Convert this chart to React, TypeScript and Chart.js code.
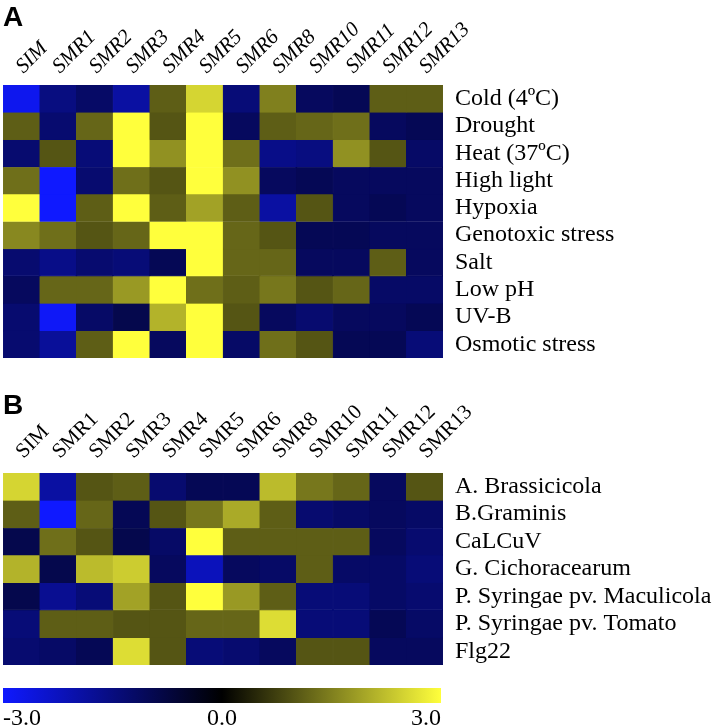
import React, { useEffect, useRef } from "react";
import { Chart, registerables } from "chart.js";

Chart.register(...registerables);

const columns = ["SIM", "SMR1", "SMR2", "SMR3", "SMR4", "SMR5", "SMR6", "SMR8", "SMR10", "SMR11", "SMR12", "SMR13"];

const rowsA = [
  "Cold (4ºC)",
  "Drought",
  "Heat (37ºC)",
  "High light",
  "Hypoxia",
  "Genotoxic stress",
  "Salt",
  "Low pH",
  "UV-B",
  "Osmotic stress",
];

const valuesA = [
  [-2.8, -1.5, -1.2, -1.9, 1.1, 2.5, -1.4, 1.5, -1.1, -1.0, 1.1, 1.1],
  [1.1, -1.3, 1.2, 3.0, 1.0, 3.0, -1.1, 1.1, 1.2, 1.3, -1.1, -1.0],
  [-1.3, 1.0, -1.4, 3.0, 1.7, 3.0, 1.3, -1.6, -1.5, 1.7, 1.0, -1.2],
  [1.3, -3.0, -1.3, 1.3, 1.0, 3.0, 1.7, -1.1, -1.0, -1.1, -1.1, -1.1],
  [3.0, -3.0, 1.1, 3.0, 1.1, 1.9, 1.1, -1.9, 1.0, -1.1, -1.0, -1.1],
  [1.6, 1.3, 1.0, 1.2, 3.0, 3.0, 1.2, 1.0, -1.0, -1.0, -1.1, -1.1],
  [-1.3, -1.6, -1.3, -1.4, -1.0, 3.0, 1.2, 1.2, -1.1, -1.1, 1.1, -1.1],
  [-1.1, 1.2, 1.2, 1.8, 3.0, 1.3, 1.1, 1.4, 1.0, 1.2, -1.2, -1.2],
  [-1.3, -2.9, -1.2, -0.9, 2.1, 3.0, 1.0, -1.1, -1.3, -1.1, -1.1, -1.0],
  [-1.3, -1.8, 1.1, 3.0, -1.1, 3.0, -1.2, 1.3, 1.0, -1.0, -1.0, -1.4],
];

const rowsB = [
  "A. Brassicicola",
  "B.Graminis",
  "CaLCuV",
  "G. Cichoracearum",
  "P. Syringae pv. Maculicola",
  "P. Syringae pv. Tomato",
  "Flg22",
];

const valuesB = [
  [2.5, -1.9, 1.0, 1.1, -1.3, -1.0, -1.0, 2.2, 1.4, 1.2, -1.1, 1.0],
  [1.1, -3.0, 1.2, -1.0, 1.0, 1.4, 2.0, 1.1, -1.3, -1.2, -1.1, -1.2],
  [-0.9, 1.3, 1.0, -0.9, -1.2, 3.0, 1.1, 1.1, 1.1, 1.1, -1.1, -1.3],
  [2.1, -0.9, 2.2, 2.4, -1.1, -2.2, -1.1, -1.2, 1.1, -1.2, -1.2, -1.4],
  [-0.9, -1.7, -1.4, 1.9, 1.0, 3.0, 1.8, 1.1, -1.4, -1.4, -1.2, -1.3],
  [-1.4, 1.1, 1.1, 1.0, 1.0, 1.2, 1.2, 2.6, -1.4, -1.4, -1.0, -1.2],
  [-1.3, -1.2, -1.0, 2.6, 1.0, -1.4, -1.3, -1.1, 1.0, 1.0, -1.1, -1.1],
];

const scaleMin = -3;
const scaleMax = 3;
const scaleTicks = [-3, 0, 3];

const SERIF = '"Liberation Serif", "Times New Roman", serif';
const BLUE = [15, 25, 255];
const YELLOW = [255, 255, 60];

function colorFor(v: number): string {
  const t = Math.min(1, Math.abs(v) / 3);
  const c = v < 0 ? BLUE : YELLOW;
  return `rgb(${Math.round(c[0] * t)},${Math.round(c[1] * t)},${Math.round(c[2] * t)})`;
}

function heatConfig(rows: string[], values: number[][], italic: boolean, axisHeight: number, tickPad: number, padBottom: number): any {
  return {
    type: "bar",
    data: {
      labels: columns,
      datasets: rows.map((r, ri) => ({
        label: r,
        data: columns.map(() => [ri, ri + 1]),
        backgroundColor: values[ri].map(colorFor),
        borderColor: values[ri].map(colorFor),
        borderWidth: 0.6,
        borderSkipped: false,
        grouped: false,
        barPercentage: 1,
        categoryPercentage: 1,
      })),
    },
    options: {
      responsive: false,
      animation: false,
      layout: { padding: { left: 3, right: 0, top: 0, bottom: padBottom } },
      plugins: { legend: { display: false }, tooltip: { enabled: false } },
      scales: {
        x: {
          type: "category",
          position: "top",
          grid: { display: false, drawTicks: false },
          border: { display: false },
          ticks: {
            font: { family: SERIF, size: 21, style: italic ? "italic" : "normal" },
            color: "#000",
            minRotation: 45,
            maxRotation: 45,
            padding: tickPad,
            labelOffset: 16,
            autoSkip: false,
          },
          afterFit: (s: any) => {
            s.height = axisHeight;
            s.paddingLeft = 0;
            s.paddingRight = 0;
          },
        },
        y: { type: "linear", min: 0, max: rows.length, reverse: true, display: false },
        rowLabels: {
          type: "category",
          labels: rows,
          position: "right",
          offset: true,
          grid: { display: false, drawTicks: false },
          border: { display: false },
          ticks: { font: { family: SERIF, size: 24 }, color: "#000", padding: 12, autoSkip: false },
          afterFit: (s: any) => {
            s.width = 275;
            s.paddingTop = 0;
            s.paddingBottom = 0;
          },
        },
      },
    },
  };
}

function barConfig(): any {
  return {
    type: "bar",
    data: {
      labels: ["scale"],
      datasets: [
        {
          data: [[scaleMin, scaleMax]],
          backgroundColor: (ctx: any) => {
            const chart = ctx.chart;
            const xs = chart.scales && chart.scales.x;
            if (!xs || !chart.chartArea) return "black";
            const x0 = xs.getPixelForValue(scaleMin);
            const x1 = xs.getPixelForValue(scaleMax);
            const g = chart.ctx.createLinearGradient(x0, 0, x1, 0);
            g.addColorStop(0, colorFor(scaleMin));
            g.addColorStop(0.5, colorFor(0));
            g.addColorStop(1, colorFor(scaleMax));
            return g;
          },
          borderWidth: 0,
          barPercentage: 1,
          categoryPercentage: 1,
        },
      ],
    },
    options: {
      indexAxis: "y",
      responsive: false,
      animation: false,
      layout: { padding: { left: 3, right: 277, top: 8, bottom: 0 } },
      plugins: { legend: { display: false }, tooltip: { enabled: false } },
      scales: {
        x: {
          type: "linear",
          min: scaleMin,
          max: scaleMax,
          position: "bottom",
          grid: { display: false, drawTicks: false },
          border: { display: false },
          ticks: {
            align: "inner",
            callback: (v: any) => Number(v).toFixed(1),
            font: { family: SERIF, size: 24 },
            color: "#000",
            padding: 1,
          },
          afterBuildTicks: (s: any) => {
            s.ticks = scaleTicks.map((v) => ({ value: v }));
          },
          afterFit: (s: any) => {
            s.height = 24;
            s.paddingLeft = 0;
            s.paddingRight = 0;
          },
        },
        y: { display: false },
      },
    },
  };
}

export default function App() {
  const refA = useRef<HTMLCanvasElement>(null);
  const refB = useRef<HTMLCanvasElement>(null);
  const refC = useRef<HTMLCanvasElement>(null);

  useEffect(() => {
    const charts: Chart[] = [];
    if (refA.current) charts.push(new Chart(refA.current, heatConfig(rowsA, valuesA, true, 85, 6, 7)));
    if (refB.current) charts.push(new Chart(refB.current, heatConfig(rowsB, valuesB, false, 88, 9, 10)));
    if (refC.current) charts.push(new Chart(refC.current, barConfig()));
    return () => charts.forEach((c) => c.destroy());
  }, []);

  const letter: React.CSSProperties = {
    position: "absolute",
    left: 3,
    fontFamily: '"Liberation Sans", Arial, sans-serif',
    fontWeight: "bold",
    fontSize: 28,
    lineHeight: "28px",
    color: "#000",
  };

  return (
    <div style={{ position: "absolute", left: 0, top: 0, width: 718, height: 727, background: "#fff" }}>
      <canvas ref={refA} width={718} height={365} style={{ position: "absolute", left: 0, top: 0, width: 718, height: 365 }} />
      <canvas ref={refB} width={718} height={290} style={{ position: "absolute", left: 0, top: 385, width: 718, height: 290 }} />
      <canvas ref={refC} width={718} height={47} style={{ position: "absolute", left: 0, top: 680, width: 718, height: 47 }} />
      <div style={{ ...letter, top: 3 }}>A</div>
      <div style={{ ...letter, top: 391 }}>B</div>
    </div>
  );
}
